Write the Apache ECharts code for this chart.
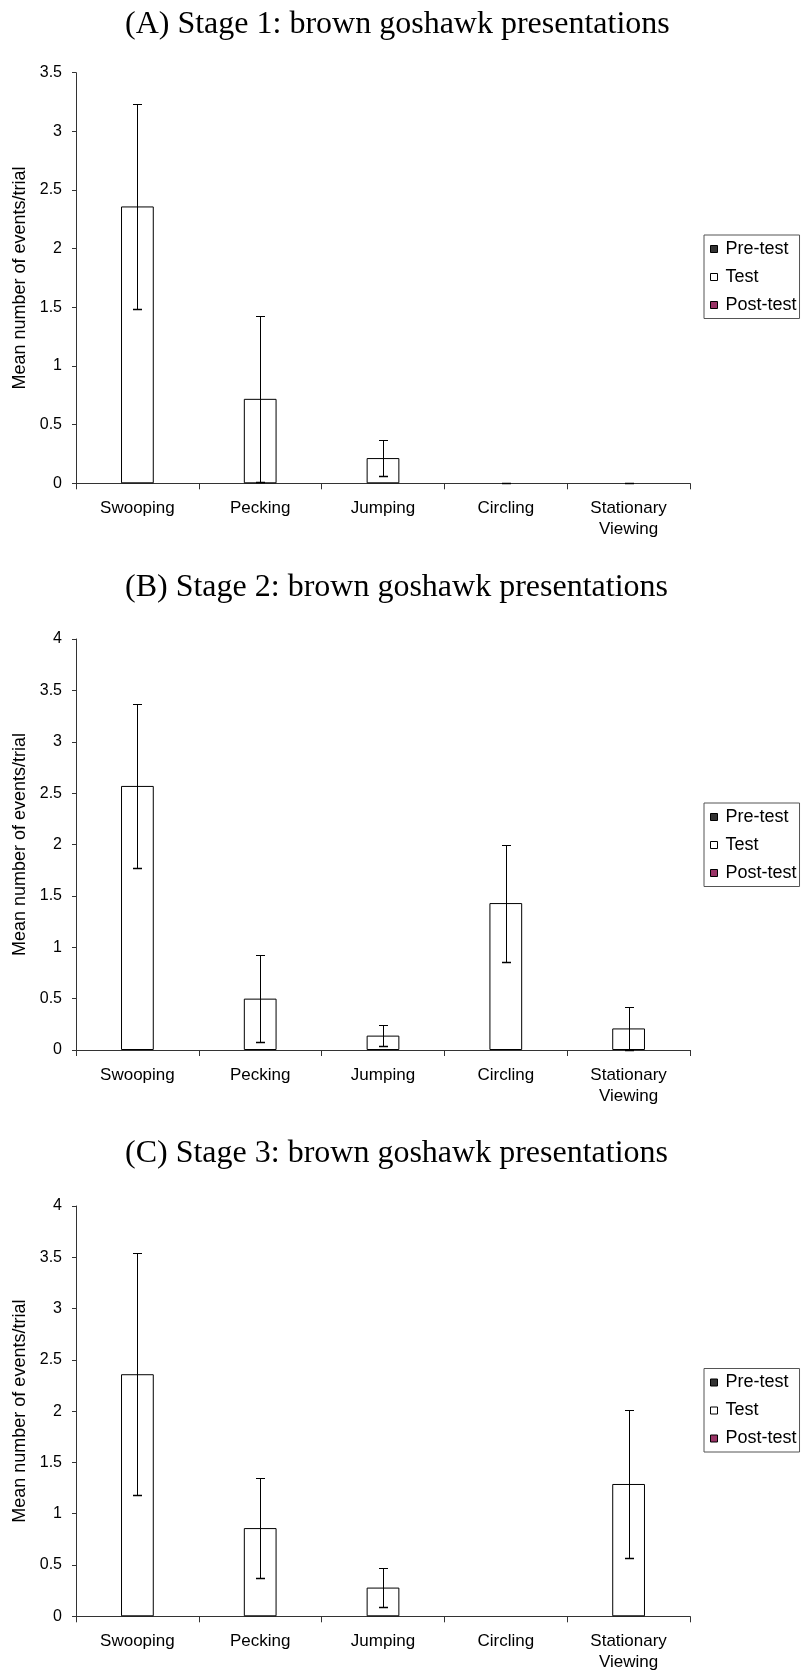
<!DOCTYPE html>
<html>
<head>
<meta charset="utf-8">
<title>Brown goshawk presentations</title>
<script src="https://cdn.jsdelivr.net/npm/echarts@6/dist/echarts.min.js"></script>
<style>
  html, body { margin: 0; padding: 0; background: #ffffff; }
  #chart { width: 802px; height: 1673px; }
</style>
</head>
<body>
<div id="chart"></div>
<script>
// Behaviour categories shared by all three stages
const categories = ['Swooping', 'Pecking', 'Jumping', 'Circling', 'Stationary\nViewing'];
const seriesNames = ['Pre-test', 'Test', 'Post-test'];

// Panel titles
const titles = [
  '(A) Stage 1: brown goshawk presentations',
  '(B) Stage 2: brown goshawk presentations',
  '(C) Stage 3: brown goshawk presentations'
];

// Y-axis ranges per stage
const yMax = [3.5, 4, 4];
const yInterval = 0.5;

// Mean number of events per trial (Pre-test and Post-test recorded none)
const preTest = [0, 0, 0, 0, 0];
const postTest = [0, 0, 0, 0, 0];
const stage1Test = [2.36, 0.72, 0.215, 0, 0];
const stage2Test = [2.57, 0.50, 0.14, 1.43, 0.21];
const stage3Test = [2.36, 0.86, 0.28, 0, 1.29];

// Error bar half-widths for the Test means
const stage1Err = [0.875, 0.71, 0.155, 0, 0];
const stage2Err = [0.80, 0.42, 0.10, 0.57, 0.21];
const stage3Err = [1.18, 0.49, 0.19, null, 0.725];

const testValues = [stage1Test, stage2Test, stage3Test];
const testErrors = [stage1Err, stage2Err, stage3Err];

// Panel geometry
const panelTitleTop = [8.5, 572, 1138];
const gridTop = [72.7, 639, 1206];
const gridHeight = [410.6, 411, 410.3];
const legendTop = [235, 803, 1368.5];

const SANS = '"Liberation Sans", Arial, sans-serif';
const SERIF = '"Liberation Serif", "Times New Roman", serif';
const colors = { 'Pre-test': '#333333', 'Test': '#ffffff', 'Post-test': '#993366' };

function errorBarItem(params, api) {
  const x = api.value(0);
  const m = api.value(1);
  const e = api.value(2);
  const top = api.coord([x, m + e]);
  const bot = api.coord([x, Math.max(0, m - e)]);
  const cx = Math.round(top[0]) + 0.5;
  const ty = Math.round(top[1]) + 0.5;
  const by = Math.round(bot[1]) + 0.5;
  const half = 4.5;
  const st = { stroke: '#000000', lineWidth: 1 };
  return {
    type: 'group',
    children: [
      { type: 'line', shape: { x1: cx, y1: ty, x2: cx, y2: by }, style: st },
      { type: 'line', shape: { x1: cx - half, y1: ty, x2: cx + half, y2: ty }, style: st },
      { type: 'line', shape: { x1: cx - half, y1: by, x2: cx + half, y2: by }, style: { stroke: '#000000', lineWidth: 1.5 } }
    ]
  };
}

const option = {
  animation: false,
  backgroundColor: '#ffffff',
  title: [],
  legend: [],
  grid: [],
  xAxis: [],
  yAxis: [],
  series: []
};

for (let p = 0; p < 3; p++) {
  option.title.push({
    text: titles[p],
    left: 125,
    top: panelTitleTop[p],
    padding: 0,
    textStyle: { fontFamily: SERIF, fontSize: 32, lineHeight: 32, fontWeight: 'normal', color: '#000000' }
  });
  option.legend.push({
    orient: 'vertical',
    left: 704,
    top: legendTop[p],
    padding: [4, 3, 3.5, 6],
    itemGap: 8,
    itemWidth: 7,
    itemHeight: 7,
    borderColor: '#555555',
    borderWidth: 1,
    backgroundColor: '#ffffff',
    selectedMode: false,
    textStyle: { fontFamily: SANS, fontSize: 18, lineHeight: 20, color: '#000000', padding: [0, 0, 0, 3] },
    data: seriesNames.map(n => ({
      name: n,
      icon: 'rect',
      itemStyle: { color: colors[n], borderColor: '#000000', borderWidth: 1 }
    }))
  });
  option.grid.push({ left: 76, width: 614, top: gridTop[p], height: gridHeight[p], containLabel: false });
  option.xAxis.push({
    type: 'category',
    gridIndex: p,
    data: categories,
    boundaryGap: true,
    axisLine: { lineStyle: { color: '#333333', width: 1 } },
    axisTick: { show: true, length: 6, lineStyle: { color: '#333333' } },
    axisLabel: { interval: 0, margin: 14.5, fontFamily: SANS, fontSize: 17, lineHeight: 21, color: '#000000' },
    splitLine: { show: false }
  });
  option.yAxis.push({
    type: 'value',
    gridIndex: p,
    min: 0,
    max: yMax[p],
    interval: yInterval,
    name: 'Mean number of events/trial',
    nameLocation: 'middle',
    nameGap: 45,
    nameTextStyle: { fontFamily: SANS, fontSize: 18, color: '#000000' },
    axisLine: { show: true, lineStyle: { color: '#333333', width: 1 } },
    axisTick: { show: true, length: 4, lineStyle: { color: '#333333' } },
    axisLabel: { margin: 14, fontFamily: SANS, fontSize: 16, color: '#000000' },
    splitLine: { show: false }
  });

  const stageData = { 'Pre-test': preTest, 'Test': testValues[p], 'Post-test': postTest };
  seriesNames.forEach(n => {
    const isTest = n === 'Test';
    option.series.push({
      name: n,
      type: 'bar',
      xAxisIndex: p,
      yAxisIndex: p,
      // a zero mean leaves no outlined box, only the error caps on the axis
      data: stageData[n].map(v => (isTest && v === 0) ? { value: v, itemStyle: { borderWidth: 0 } } : v),
      barGap: '0%',
      barCategoryGap: '20%',
      itemStyle: isTest
        ? { color: colors[n], borderColor: '#000000', borderWidth: 1 }
        : { color: colors[n], borderWidth: 0 },
      emphasis: { disabled: true }
    });
  });

  const errData = [];
  categories.forEach((c, i) => {
    if (testErrors[p][i] !== null) errData.push([i, testValues[p][i], testErrors[p][i]]);
  });
  option.series.push({
    name: 'Test error ' + (p + 1),
    type: 'custom',
    xAxisIndex: p,
    yAxisIndex: p,
    renderItem: errorBarItem,
    data: errData,
    z: 10,
    encode: { x: 0, y: [1, 2] },
    silent: true
  });
}

const chart = echarts.init(document.getElementById('chart'), null, { renderer: 'canvas' });
chart.setOption(option);
</script>
</body>
</html>
